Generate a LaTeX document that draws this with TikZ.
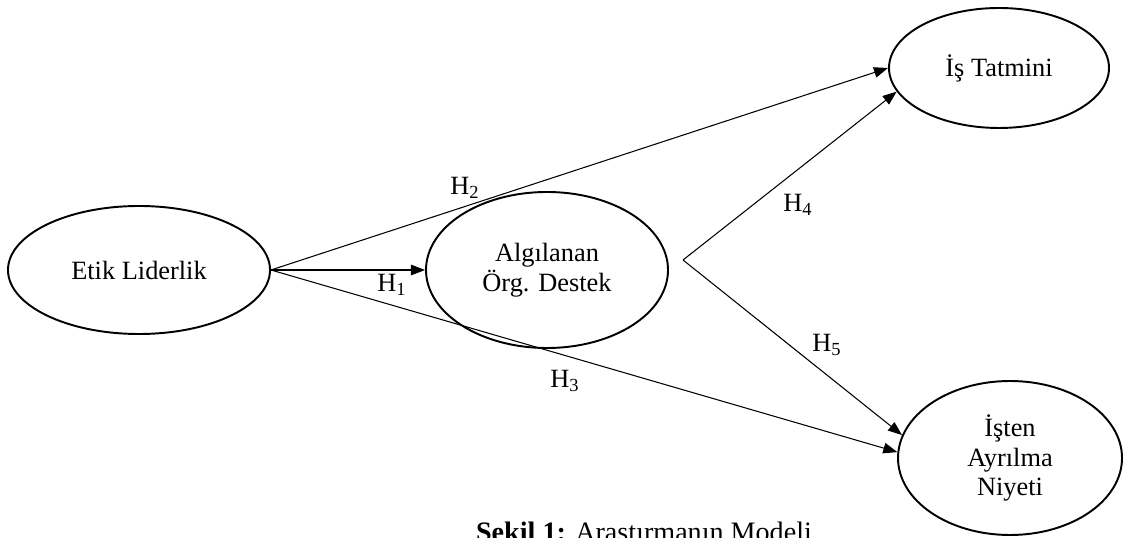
\documentclass[tikz,border=0pt]{standalone}
\usepackage{fontspec}
\setmainfont{Liberation Serif}
\usetikzlibrary{shapes.geometric,arrows.meta,positioning}

\begin{document}
\begin{tikzpicture}[
  font=\fontsize{15}{17}\selectfont,
  var/.style={ellipse, draw, line width=1.1pt, inner sep=0pt, align=center},
  hyp/.style={-{Triangle[length=8pt,width=6pt]}, line width=0.6pt}
]
  \useasboundingbox (0,0) rectangle (22.5,10.74);

  \node[var, minimum width=5.24cm, minimum height=2.56cm] (etik) at (2.78,5.34) {Etik Liderlik};
  \node[var, minimum width=4.84cm, minimum height=3.12cm] (algi) at (10.94,5.34) {Algılanan\\Örg. Destek};
  \node[var, minimum width=4.4cm, minimum height=2.4cm] (tatmin) at (19.98,9.38) {İş Tatmini};
  \node[var, minimum width=4.48cm, minimum height=3.08cm] (niyet) at (20.2,1.58) {İşten\\Ayrılma\\Niyeti};
  \coordinate (split) at (13.66,5.54);

  \draw[hyp] (etik.east) -- (algi.west);
  \draw[hyp] (etik.east) -- (tatmin.west);
  \draw[hyp] (etik.east) -- (niyet.177);
  \draw[hyp] (split) -- (tatmin.193);
  \draw[hyp] (split) -- (niyet.168);

  \node (h1) at (7.84,5.04) {H\textsubscript{1}};
  \node (h2) at (9.30,6.98) {H\textsubscript{2}};
  \node (h3) at (11.30,3.12) {H\textsubscript{3}};
  \node (h4) at (15.96,6.64) {H\textsubscript{4}};
  \node (h5) at (16.54,3.84) {H\textsubscript{5}};

  \node[anchor=base, font=\fontsize{16}{18}\selectfont] (caption) at (12.88,-0.08) {\textbf{Şekil 1:} Araştırmanın Modeli};
\end{tikzpicture}
\end{document}
